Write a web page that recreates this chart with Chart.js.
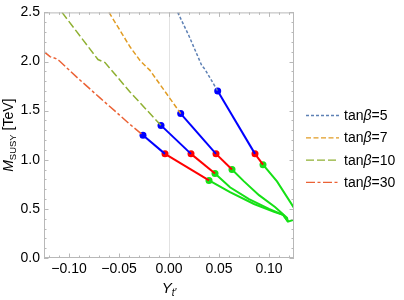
<!DOCTYPE html>
<html lang="en">
<head>
<meta charset="UTF-8">
<title>M_SUSY vs Y_t'</title>
<script src="https://cdn.jsdelivr.net/npm/chart.js"></script>
<style>
  html, body { margin: 0; padding: 0; background: #fff; }
  #wrap { width: 404px; height: 300px; }
</style>
</head>
<body>
<div id="wrap"><canvas id="chart" width="404" height="300"></canvas></div>
<script>
// legend names and styles
const seriesNames = ['5', '7', '10', '30'];
const seriesColors = ['#5e81b5', '#e19c24', '#8fb032', '#eb6235'];
const seriesDash = [[3, 2], [5, 2.5], [8, 3], [9, 2.5, 3, 2.5]];

// dashed curves
const curve5X = [0.0087, 0.0200, 0.0327, 0.0360, 0.0487];
const curve5Y = [2.50, 2.26, 1.96, 1.92, 1.70];
const curve7X = [-0.060, -0.039, -0.029, -0.019, 0.0117];
const curve7Y = [2.50, 2.15, 2.01, 1.91, 1.47];
const curve10X = [-0.107, -0.071, -0.064, -0.039, -0.029, -0.008];
const curve10Y = [2.50, 2.02, 1.99, 1.69, 1.58, 1.35];
const curve30X = [-0.125, -0.119, -0.113, -0.110, -0.090, -0.069, -0.050, -0.039, -0.026];
const curve30Y = [2.10, 2.05, 2.03, 2.01, 1.82, 1.63, 1.46, 1.36, 1.25];

// marked points, order tanβ = 5, 7, 10, 30
const blueX = [0.0487, 0.0117, -0.008, -0.026];
const blueY = [1.70, 1.47, 1.35, 1.25];
const redX = [0.086, 0.047, 0.022, -0.004];
const redY = [1.06, 1.06, 1.06, 1.06];
const greenX = [0.094, 0.063, 0.046, 0.040];
const greenY = [0.95, 0.90, 0.86, 0.79];

// green tails after the green point
const tail5X = [0.108, 0.125];
const tail5Y = [0.78, 0.51];
const tail7X = [0.075, 0.090, 0.106, 0.118, 0.119];
const tail7Y = [0.78, 0.64, 0.52, 0.41, 0.37];
const tail10X = [0.061, 0.080, 0.100, 0.114, 0.119];
const tail10Y = [0.72, 0.60, 0.50, 0.44, 0.37];
const tail30X = [0.061, 0.085, 0.105, 0.114, 0.119, 0.125];
const tail30Y = [0.67, 0.55, 0.47, 0.44, 0.37, 0.39];

// axis ticks
const xTicks = [-0.10, -0.05, 0.00, 0.05, 0.10];
const yTicks = [0.0, 0.5, 1.0, 1.5, 2.0, 2.5];

const curvesX = [curve5X, curve7X, curve10X, curve30X];
const curvesY = [curve5Y, curve7Y, curve10Y, curve30Y];
const tailsX = [tail5X, tail7X, tail10X, tail30X];
const tailsY = [tail5Y, tail7Y, tail10Y, tail30Y];

const pts = (xs, ys) => xs.map((x, i) => ({ x, y: ys[i] }));
const firstOnly = r => ctx => ctx.dataIndex === 0 ? r : 0;

const datasets = [];
// dashed parts
seriesNames.forEach((n, i) => {
  datasets.push({
    data: pts(curvesX[i], curvesY[i]),
    borderColor: seriesColors[i],
    borderWidth: 1.5,
    borderDash: seriesDash[i],
    pointRadius: 0
  });
});
// blue -> red segments
seriesNames.forEach((n, i) => {
  datasets.push({
    data: [{ x: blueX[i], y: blueY[i] }, { x: redX[i], y: redY[i] }],
    borderColor: '#0000ff', borderWidth: 2,
    pointRadius: firstOnly(3.5), pointBackgroundColor: '#0000ff', pointBorderWidth: 0
  });
});
// red -> green segments
seriesNames.forEach((n, i) => {
  datasets.push({
    data: [{ x: redX[i], y: redY[i] }, { x: greenX[i], y: greenY[i] }],
    borderColor: '#ff0000', borderWidth: 2,
    pointRadius: firstOnly(3.5), pointBackgroundColor: '#ff0000', pointBorderWidth: 0
  });
});
// green tails
seriesNames.forEach((n, i) => {
  datasets.push({
    data: [{ x: greenX[i], y: greenY[i] }].concat(pts(tailsX[i], tailsY[i])),
    borderColor: '#16e016', borderWidth: 2,
    pointRadius: firstOnly(3.5), pointBackgroundColor: '#16e016', pointBorderWidth: 0
  });
});

const FONT = '"Liberation Sans", Arial, sans-serif';
const FRAME = '#b8b8b8';

// frame with inner ticks + zero grid line
const framePlugin = {
  id: 'frame',
  beforeDatasetsDraw(chart) {
    const { ctx, chartArea: a, scales } = chart;
    ctx.save();
    ctx.strokeStyle = '#e2e2e2';
    ctx.lineWidth = 1;
    const x0 = Math.round(scales.x.getPixelForValue(0)) + 0.5;
    ctx.beginPath(); ctx.moveTo(x0, a.top); ctx.lineTo(x0, a.bottom); ctx.stroke();
    ctx.restore();
  },
  afterDraw(chart) {
    const { ctx, chartArea: a, scales } = chart;
    ctx.save();
    ctx.strokeStyle = FRAME;
    ctx.lineWidth = 1;
    ctx.strokeRect(a.left + 0.5, a.top + 0.5, a.right - a.left - 1, a.bottom - a.top - 1);
    ctx.beginPath();
    for (let k = -12; k <= 12; k++) {
      const px = Math.round(scales.x.getPixelForValue(k / 100)) + 0.5;
      const len = k % 5 === 0 ? 4.5 : 2.5;
      ctx.moveTo(px, a.bottom); ctx.lineTo(px, a.bottom - len);
      ctx.moveTo(px, a.top); ctx.lineTo(px, a.top + len);
    }
    for (let k = 0; k <= 25; k++) {
      const py = Math.round(scales.y.getPixelForValue(k / 10)) + 0.5;
      const len = k % 5 === 0 ? 4.5 : 2.5;
      ctx.moveTo(a.left, py); ctx.lineTo(a.left + len, py);
      ctx.moveTo(a.right, py); ctx.lineTo(a.right - len, py);
    }
    ctx.stroke();
    ctx.restore();
  }
};

// draws a run of [text, italic, size, dy] pieces, returns width
function drawRich(ctx, parts, x, y) {
  let cx = x;
  parts.forEach(([t, it, size, dy]) => {
    ctx.font = (it ? 'italic ' : '') + size + 'px ' + FONT;
    ctx.fillText(t, cx, y + dy);
    cx += ctx.measureText(t).width;
  });
  return cx - x;
}
function richWidth(ctx, parts) {
  let w = 0;
  parts.forEach(([t, it, size]) => {
    ctx.font = (it ? 'italic ' : '') + size + 'px ' + FONT;
    w += ctx.measureText(t).width;
  });
  return w;
}

// legend and axis titles
const labelsPlugin = {
  id: 'labels',
  afterDraw(chart) {
    const { ctx, chartArea: a } = chart;
    ctx.save();
    ctx.fillStyle = '#000';
    ctx.textBaseline = 'alphabetic';

    // legend
    seriesNames.forEach((n, i) => {
      const y = 115 + i * 22.3;
      ctx.strokeStyle = seriesColors[i];
      ctx.lineWidth = 1.3;
      ctx.setLineDash(seriesDash[i]);
      ctx.beginPath(); ctx.moveTo(306, y + 0.5); ctx.lineTo(339, y + 0.5); ctx.stroke();
      ctx.setLineDash([]);
      drawRich(ctx, [['tan', false, 14, 0], ['β', true, 14, 0], ['=' + n, false, 14, 0]], 344, y + 5);
    });

    // x title
    const xt = [['Y', true, 15, 0], ['t′', true, 10, 3]];
    const xw = richWidth(ctx, xt);
    drawRich(ctx, xt, (a.left + a.right) / 2 - xw / 2, 293);

    // y title
    const yt = [['M', true, 14, 0], ['SUSY', false, 9.5, 3], [' [TeV]', false, 14, 0]];
    const yw = richWidth(ctx, yt);
    ctx.translate(13, (a.top + a.bottom) / 2);
    ctx.rotate(-Math.PI / 2);
    drawRich(ctx, yt, -yw / 2, 0);
    ctx.restore();
  }
};

new Chart(document.getElementById('chart'), {
  type: 'scatter',
  data: { datasets },
  options: {
    responsive: false,
    devicePixelRatio: 1,
    animation: false,
    showLine: true,
    layout: { padding: { top: 9, right: 110, left: 0, bottom: 0 } },
    plugins: { legend: { display: false }, tooltip: { enabled: false } },
    scales: {
      x: {
        type: 'linear', min: -0.125, max: 0.125,
        afterBuildTicks: s => { s.ticks = xTicks.map(v => ({ value: v })); },
        afterFit: s => { s.height = 42; },
        grid: { display: false, drawTicks: false },
        border: { display: false },
        ticks: {
          color: '#000', padding: 3, maxRotation: 0,
          font: { family: FONT, size: 14 },
          callback: v => (v < 0 ? '−' : '') + Math.abs(v).toFixed(2)
        }
      },
      y: {
        type: 'linear', min: 0, max: 2.5,
        afterBuildTicks: s => { s.ticks = yTicks.map(v => ({ value: v })); },
        afterFit: s => { s.width = 44; },
        grid: { display: false, drawTicks: false },
        border: { display: false },
        ticks: {
          color: '#000', padding: 4,
          font: { family: FONT, size: 14 },
          callback: v => v.toFixed(1)
        }
      }
    }
  },
  plugins: [framePlugin, labelsPlugin]
});
</script>
</body>
</html>
